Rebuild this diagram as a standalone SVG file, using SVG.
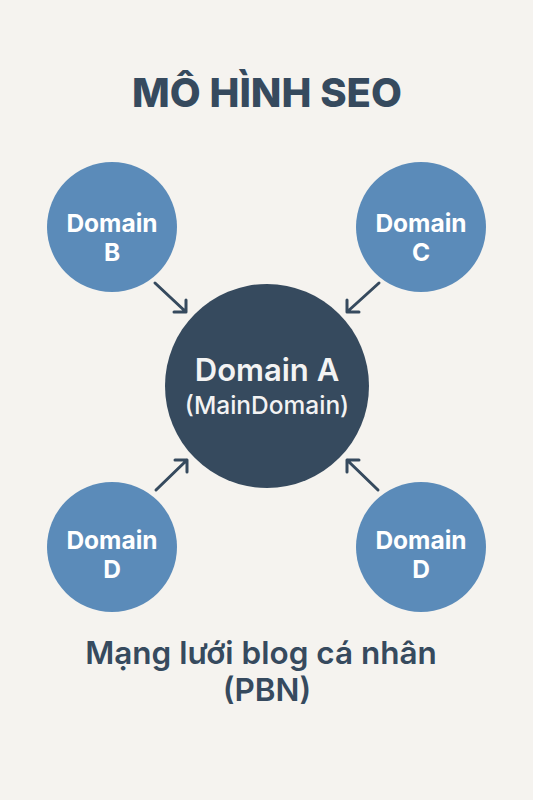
<svg xmlns="http://www.w3.org/2000/svg" width="533" height="800" viewBox="0 0 533 800">
<defs>
<style>
.bg{fill:#f5f3ef}
.sat{fill:#5b8bb9}
.main{fill:#364a5e}
.t{font-family:Inter,"Noto Sans","DejaVu Sans",sans-serif;text-anchor:middle}
.title{font-size:40px;font-weight:800;fill:#364a5e}
.sub{font-size:31.5px;font-weight:600;fill:#364a5e}
.lbl{font-size:24.5px;font-weight:700;fill:#ffffff}
.mlbl{font-size:31px;font-weight:600;fill:#f3f3f3}
.mlbl2{font-size:24.5px;font-weight:500;fill:#f3f3f3}
.arr{fill:none;stroke:#364a5e;stroke-width:3;stroke-linecap:round;stroke-linejoin:round}
</style>
</defs>
<rect class="bg" x="0" y="0" width="533" height="800"/>
<text class="t title" x="267" y="107">MÔ HÌNH SEO</text>
<g id="connectors">
<path class="arr" d="M155,283 L186,312 M186,300 L186,312 L174,312"/>
<path class="arr" d="M379,283 L347,312 M347,300 L347,312 L359,312"/>
<path class="arr" d="M156,490 L187,460 M175,460 L187,460 L187,472"/>
<path class="arr" d="M378,490 L347,460 M359,460 L347,460 L347,472"/>
</g>
<g id="nodeB">
<circle class="sat" cx="112" cy="227" r="65"/>
<text class="t lbl" x="112" y="232">Domain</text>
<text class="t lbl" x="112" y="261">B</text>
</g>
<g id="nodeC">
<circle class="sat" cx="421" cy="227" r="65"/>
<text class="t lbl" x="421" y="232">Domain</text>
<text class="t lbl" x="421" y="261">C</text>
</g>
<g id="nodeA">
<circle class="main" cx="267" cy="386" r="102"/>
<text class="t mlbl" x="267" y="381">Domain A</text>
<text class="t mlbl2" x="267" y="414">(MainDomain)</text>
</g>
<g id="nodeD1">
<circle class="sat" cx="112" cy="547" r="65"/>
<text class="t lbl" x="112" y="549">Domain</text>
<text class="t lbl" x="112" y="578">D</text>
</g>
<g id="nodeD2">
<circle class="sat" cx="421" cy="547" r="65"/>
<text class="t lbl" x="421" y="549">Domain</text>
<text class="t lbl" x="421" y="578">D</text>
</g>
<text class="t sub" x="261" y="664">Mạng lưới blog cá nhân</text>
<text class="t sub" x="267" y="701">(PBN)</text>
</svg>
